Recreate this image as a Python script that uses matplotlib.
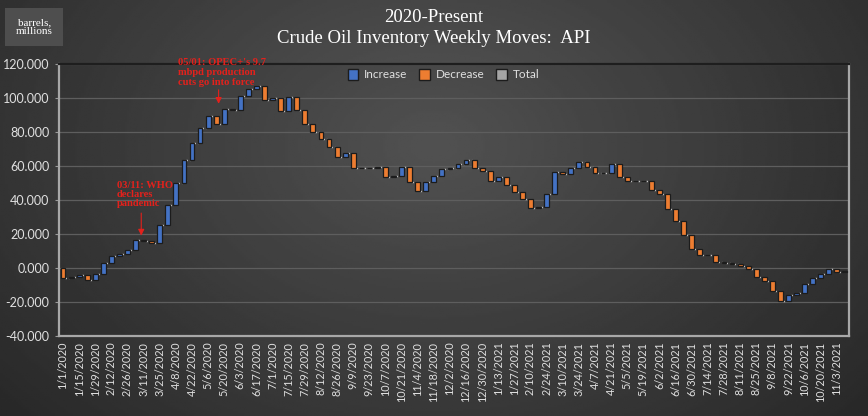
import numpy as np
import pandas as pd
import matplotlib
matplotlib.use("Agg")
import matplotlib.pyplot as plt
from matplotlib.patches import Patch, Rectangle

# weekly API crude inventory moves (million barrels), 1/1/2020 - 11/10/2021
weeks = pd.date_range("2020-01-01", "2021-11-10", freq="7D")
moves = [-5.8, 0.6, 1.4, -3.0, 3.6, 6.2, 4.1, 1.0, 2.5, 5.8,
         -0.3, -1.1, 10.2, 11.8, 13.0, 13.6, 9.8, 8.9, 7.3, -4.8,
         8.7, -0.4, 7.9, 4.3, 1.7, -8.4, 1.4, -7.5, 7.9, -7.7,
         -7.9, -4.8, -4.2, -4.8, -5.8, 2.7, -9.2, -0.1, 0.4, 0.6,
         -5.9, 0.4, 5.2, -8.9, -4.9, 4.9, 3.7, 4.2, 0.7, 2.2,
         2.4, -4.6, -1.7, -6.1, 2.5, -4.9, -4.3, -3.6, -5.5, 0.4,
         7.7, 12.8, -1.0, 3.4, 3.5, -2.6, -3.5, -0.1, 5.2, -7.9,
         -1.9, -0.2, -0.2, -5.1, -2.6, -8.7, -7.0, -8.3, -8.3, -3.5,
         0.3, -4.3, -0.4, -0.9, -1.2, -1.4, -4.9, -2.4, -5.9, -5.9,
         3.9, 0.8, 5.5, 3.4, 2.2, 3.3, -2.0, 0.5]
labels = [f"{d.month}/{d.day}/{d.year}" for d in weeks]

moves = np.array(moves)
level = np.cumsum(moves)
start = level - moves
x = np.arange(len(moves))
c_up, c_down, c_tot = "#4472C4", "#ED7D31", "#A5A5A5"
colors = [c_up if m > 0 else c_down for m in moves]

fig = plt.figure(figsize=(8.68, 4.16), dpi=100)

# dark radial background
bg = fig.add_axes([0, 0, 1, 1], zorder=-5)
yy, xx = np.mgrid[0:1:200j, 0:1:400j]
r = np.sqrt(((xx - 0.5) / 0.62) ** 2 + ((yy - 0.35) / 0.9) ** 2)
shade = np.clip(0.34 - 0.17 * r, 0.16, 0.34)
bg.imshow(shade, cmap="gray", vmin=0, vmax=1, aspect="auto",
          extent=[0, 1, 0, 1], origin="upper")
bg.axis("off")

# units box
fig.patches.append(Rectangle((0.006, 0.889), 0.067, 0.091, transform=fig.transFigure,
                             facecolor="#4e4e4e", edgecolor="none", zorder=-1))
fig.text(0.0395, 0.934, "barrels,\nmillions", ha="center", va="center",
         family="Liberation Serif", fontsize=8, color="white", linespacing=0.95)

fig.text(0.5, 0.957, "2020-Present", ha="center", va="center",
         family="Liberation Serif", fontsize=13.5, color="white")
fig.text(0.5, 0.908, "Crude Oil Inventory Weekly Moves:  API", ha="center", va="center",
         family="Liberation Serif", fontsize=13.5, color="white")

ax = fig.add_axes([0.068, 0.192, 0.910, 0.654])
ax.patch.set_facecolor((0, 0, 0, 0.06))

w = 0.6
ax.bar(x, np.abs(moves), bottom=np.minimum(start, level), width=w,
       color=colors, edgecolor="#1c1c1c", linewidth=0.9, zorder=3)
ax.hlines(level[:-1], x[:-1] + w / 2, x[1:] - w / 2, colors="#d8d8d8",
          linestyles=(0, (1, 1.5)), linewidth=1.0, zorder=2)

ax.set_xlim(-0.5, len(moves) - 0.5)
ax.set_ylim(-40, 120)
ax.set_yticks(np.arange(-40, 121, 20))
ax.set_yticklabels([f"{v:.3f}" for v in np.arange(-40, 121, 20)],
                   family="Lato", fontsize=9, color="#e0e0e0")
ax.set_xticks(x[::2])
ax.set_xticklabels(labels[::2], rotation=90, family="Lato", fontsize=7.8, color="#e0e0e0")
ax.tick_params(axis="x", length=0, pad=4)
ax.tick_params(axis="y", length=3, color="#9a9a9a", pad=4)
ax.grid(axis="y", color="#5e5e5e", linewidth=0.9, zorder=0)
ax.set_axisbelow(True)
for s in ["left", "bottom", "right"]:
    ax.spines[s].set_color("#a8a8a8")
    ax.spines[s].set_linewidth(1.6)
ax.spines["top"].set_color("#1e1e1e")
ax.spines["top"].set_linewidth(1.6)

handles = [Patch(facecolor=c, edgecolor="#1c1c1c", label=n)
           for c, n in [(c_up, "Increase"), (c_down, "Decrease"), (c_tot, "Total")]]
ax.legend(handles=handles, loc="upper center", bbox_to_anchor=(0.487, 1.022), ncol=3,
          frameon=False, prop={"family": "Lato", "size": 8.5}, labelcolor="#e0e0e0",
          handlelength=0.9, handleheight=1.1, columnspacing=1.0, handletextpad=0.5)

red = "#e3211c"
ax.text(6.7, 35.5, "03/11: WHO\ndeclares\npandemic", ha="left", va="bottom",
        family="Liberation Serif", fontsize=7.6, fontweight="bold", color=red, linespacing=1.0)
ax.annotate("", xy=(9.7, 17.5), xytext=(9.7, 34),
            arrowprops=dict(arrowstyle="-|>", color=red, lw=0.8, mutation_scale=9))
ax.text(14.3, 106.8, "05/01: OPEC+'s 9.7\nmbpd production\ncuts go into force", ha="left",
        va="bottom", family="Liberation Serif", fontsize=7.6, fontweight="bold",
        color=red, linespacing=1.1)
ax.annotate("", xy=(19.3, 95.0), xytext=(19.3, 106.5),
            arrowprops=dict(arrowstyle="-|>", color=red, lw=0.8, mutation_scale=9))

fig.savefig("out.png", dpi=100)
